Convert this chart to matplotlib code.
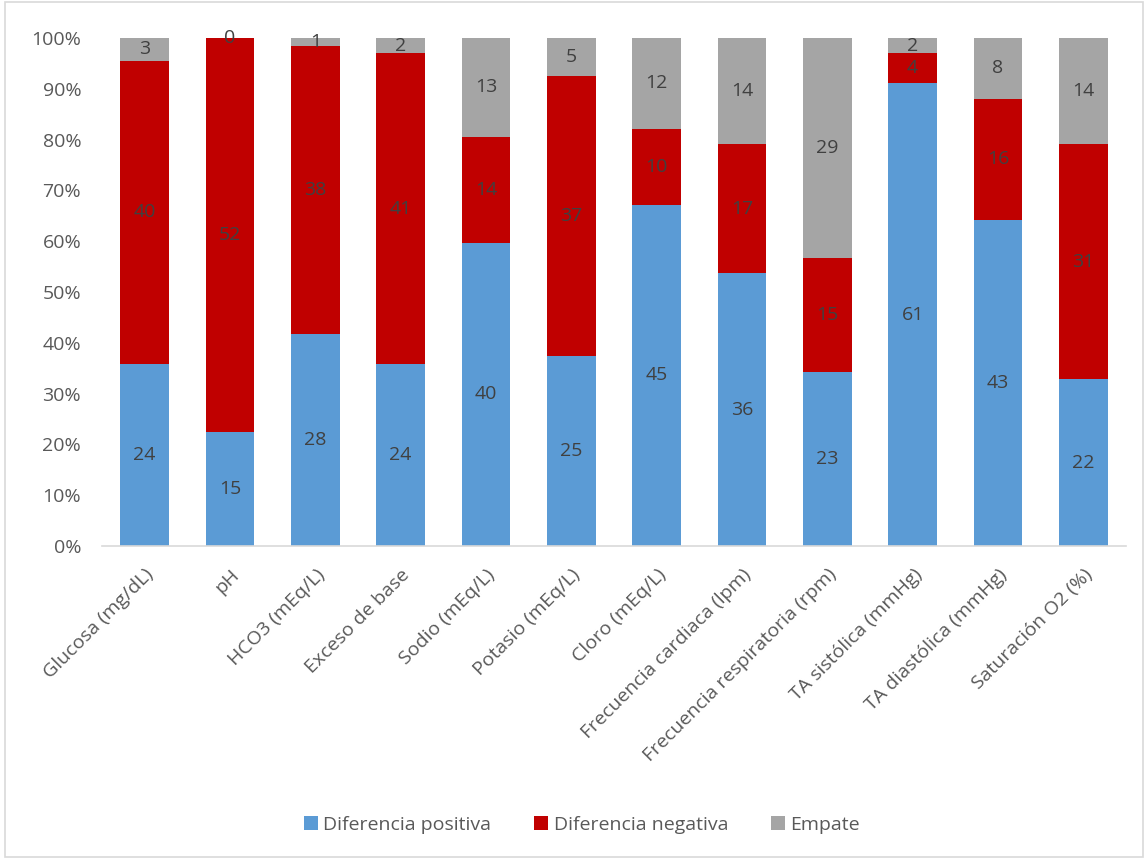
import matplotlib
matplotlib.use("Agg")
import matplotlib.pyplot as plt
import numpy as np
from matplotlib.patches import Rectangle

plt.rcParams['font.family'] = ['Open Sans', 'DejaVu Sans']

categories = ["Glucosa (mg/dL)", "pH", "HCO3 (mEq/L)", "Exceso de base", "Sodio (mEq/L)",
              "Potasio (mEq/L)", "Cloro (mEq/L)", "Frecuencia cardiaca (lpm)",
              "Frecuencia respiratoria (rpm)", "TA sistólica (mmHg)", "TA diastólica (mmHg)",
              "Saturación O2 (%)"]
positiva = [24, 15, 28, 24, 40, 25, 45, 36, 23, 61, 43, 22]
negativa = [40, 52, 38, 41, 14, 37, 10, 17, 15, 4, 16, 31]
empate = [3, 0, 1, 2, 13, 5, 12, 14, 29, 2, 8, 14]
series_names = ["Diferencia positiva", "Diferencia negativa", "Empate"]
colors = ["#5B9BD5", "#C00000", "#A5A5A5"]

fig = plt.figure(figsize=(11.45, 8.59), dpi=100)
ax = fig.add_axes([102/1145, 1-546/859, (1126-102)/1145, (546-38)/859])

series = [np.array(positiva, float), np.array(negativa, float), np.array(empate, float)]
total = sum(series)
x = np.arange(len(categories))
bottom = np.zeros(len(categories))
handles = []
for vals, name, c in zip(series, series_names, colors):
    frac = vals / total
    b = ax.bar(x, frac, 0.57, bottom=bottom, color=c, label=name, linewidth=0)
    handles.append(b)
    for xi, f, bt, v in zip(x, frac, bottom, vals):
        ax.text(xi, bt + f/2, f"{int(v)}", ha='center', va='center',
                fontsize=14, color='#404040')
    bottom += frac

ax.set_xlim(-0.5, len(categories) - 0.5)
ax.set_ylim(0, 1)
ax.set_yticks(np.arange(0, 1.01, 0.1))
ax.set_yticklabels([f"{int(round(v*100))}%" for v in np.arange(0, 1.01, 0.1)],
                   fontsize=14, color='#595959')
ax.set_xticks(x)
ax.set_xticklabels(categories, rotation=45, ha='right', rotation_mode='anchor',
                   fontsize=14, color='#595959')
ax.tick_params(axis='y', length=0, pad=15)
ax.tick_params(axis='x', length=0, pad=14)
for s in ['top', 'right', 'left']:
    ax.spines[s].set_visible(False)
ax.spines['bottom'].set_color('#D9D9D9')
ax.spines['bottom'].set_linewidth(1.2)

fig.legend(handles=handles, labels=series_names, loc='center',
           bbox_to_anchor=(582/1145, 1-825/859), ncol=3, frameon=False,
           fontsize=14, handlelength=0.7, handleheight=0.7, handletextpad=0.3,
           columnspacing=2.2, labelcolor='#595959')

fig.patches.append(Rectangle((5/1145, 0.002), 1-7/1145, 0.996, transform=fig.transFigure,
                             fill=False, edgecolor='#D9D9D9', linewidth=1.2))

fig.savefig("out.png", dpi=100, facecolor='white')
